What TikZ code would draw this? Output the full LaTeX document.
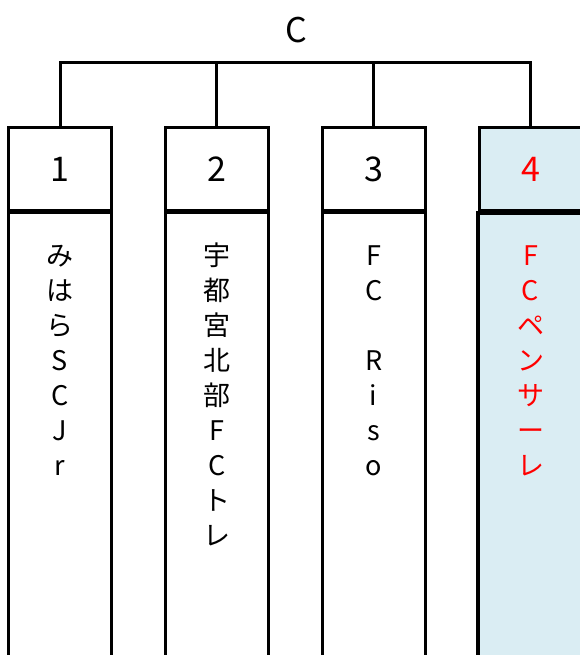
\documentclass[tikz,border=0pt]{standalone}
\usepackage{fontspec}
\setmainfont{Noto Sans CJK JP}
\definecolor{hlblue}{RGB}{218,237,243}
\definecolor{hlred}{RGB}{255,0,0}
\begin{document}
\begin{tikzpicture}[x=1pt,y=-1pt,
  frame/.style={draw=black,line width=3pt},
  headbox/.style={frame,minimum width=103pt,minimum height=83pt,inner sep=0pt,font=\fontsize{34}{34}\selectfont},
  bodybox/.style={frame,minimum width=103pt,minimum height=480pt,anchor=north,inner sep=0pt},
  chr/.style={anchor=base,inner sep=0pt,font=\fontsize{27}{27}\selectfont},
  link/.style={line width=3pt}]
\clip (0,0) rectangle (580,655);
\fill[white] (0,0) rectangle (580,655);
% top label
\node[anchor=base,inner sep=0pt,font=\fontsize{34}{34}\selectfont] (c) at (296,43) {C};
% headers and bodies
\node[headbox] (h1) at (60,169) {1};
\node[headbox] (h2) at (216.7,169) {2};
\node[headbox] (h3) at (373.7,169) {3};
\node[headbox,fill=hlblue,text=hlred] (h4) at (530.5,169) {4};
\node[bodybox] (b1) at (60,210.5) {};
\node[bodybox] (b2) at (216.7,210.5) {};
\node[bodybox] (b3) at (373.7,210.5) {};
\node[bodybox,fill=hlblue,line width=4.5pt,minimum width=105pt] (b4) at (530.5,210.5) {};
% bracket
\coordinate (bar) at (0,63);
\draw[link] (h1.north) -- (h1.north |- bar) -- (h4.north |- bar) -- (h4.north);
\draw[link] (h2.north) -- (h2.north |- bar);
\draw[link] (h3.north) -- (h3.north |- bar);
% column texts
\foreach \ch [count=\i] in {み,は,ら,S,C,J,r}
  \node[chr] (ta\i) at (60,230+35*\i) {\ch};
\foreach \ch [count=\i] in {宇,都,宮,北,部,F,C,ト,レ}
  \node[chr] (tb\i) at (216.7,230+35*\i) {\ch};
\foreach \ch [count=\i] in {F,C,{},R,i,s,o}
  \node[chr] (tc\i) at (373.7,230+35*\i) {\ch};
\foreach \ch [count=\i] in {F,C,ペ,ン,サ,ー,レ}
  \node[chr,text=hlred] (td\i) at (530.5,230+35*\i) {\ch};
\end{tikzpicture}
\end{document}
